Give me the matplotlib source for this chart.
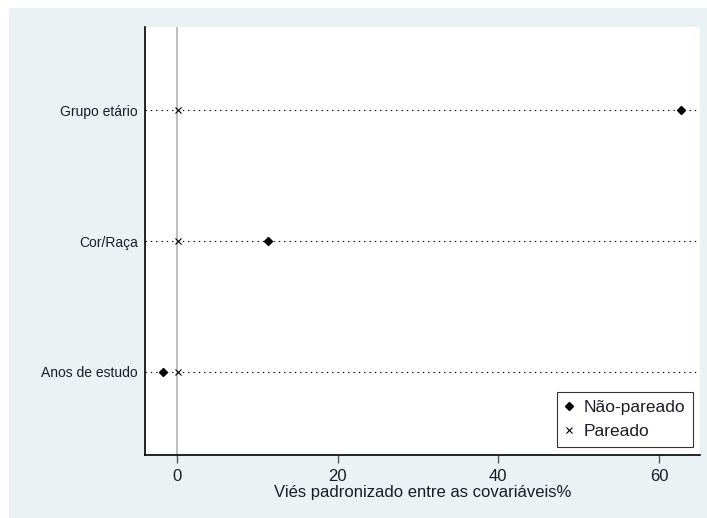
import matplotlib.pyplot as plt
from matplotlib.patches import Rectangle

plt.rcParams['font.family'] = ['Liberation Sans', 'DejaVu Sans']

covars = ["Anos de estudo", "Cor/Raça", "Grupo etário"]
nao_pareado = [-1.7, 11.3, 62.7]
pareado = [0.1, 0.1, 0.1]
xticks = [0, 20, 40, 60]

txt = '#1c1c28'
fig = plt.figure(figsize=(7.07, 5.18), dpi=100)
bg = Rectangle((9/707, 0), 1 - 9/707, 1 - 8/518, transform=fig.transFigure,
               facecolor='#eaf2f3', edgecolor='none', zorder=-10)
fig.add_artist(bg)
ax = fig.add_axes([145/707, 1 - 455/518, 555/707, 428/518])
ax.set_facecolor('white')

ypos = list(range(1, len(covars) + 1))
for y in ypos:
    ax.axhline(y, color='black', lw=0.8, ls=(0, (1.2, 3.6)), zorder=1)
ax.axvline(0, color='#b4b4b4', lw=1.2, zorder=1)

ax.plot(nao_pareado, ypos, 'D', color='black', ms=4.5, ls='none', label='Não-pareado', zorder=3)
ax.plot(pareado, ypos, 'x', color='black', ms=4.5, mew=0.8, ls='none', label='Pareado', zorder=3)

ax.set_xlim(-3.98, 65.1)
ax.set_ylim(0.366, 3.634)
ax.set_yticks(ypos)
ax.set_yticklabels(covars, fontsize=10, color=txt)
ax.tick_params(axis='y', length=0, pad=5)
ax.set_xticks(xticks)
ax.tick_params(axis='x', length=6, width=1, color='#555555', labelsize=12, labelcolor=txt, pad=4)
ax.set_xlabel('Viés padronizado entre as covariáveis%', fontsize=12, color=txt, labelpad=1)

for s in ['top', 'right']:
    ax.spines[s].set_visible(False)
for s in ['left', 'bottom']:
    ax.spines[s].set_color('black')
    ax.spines[s].set_linewidth(1.2)

leg = ax.legend(loc='lower right', bbox_to_anchor=(0.9875, 0.019), fontsize=12.5,
                frameon=True, fancybox=False, edgecolor='black', handlelength=0.5,
                handletextpad=0.6, borderpad=0.45, labelspacing=0.5, labelcolor=txt,
                borderaxespad=0)
leg.get_frame().set_linewidth(0.8)

fig.savefig('out.png', dpi=100)
